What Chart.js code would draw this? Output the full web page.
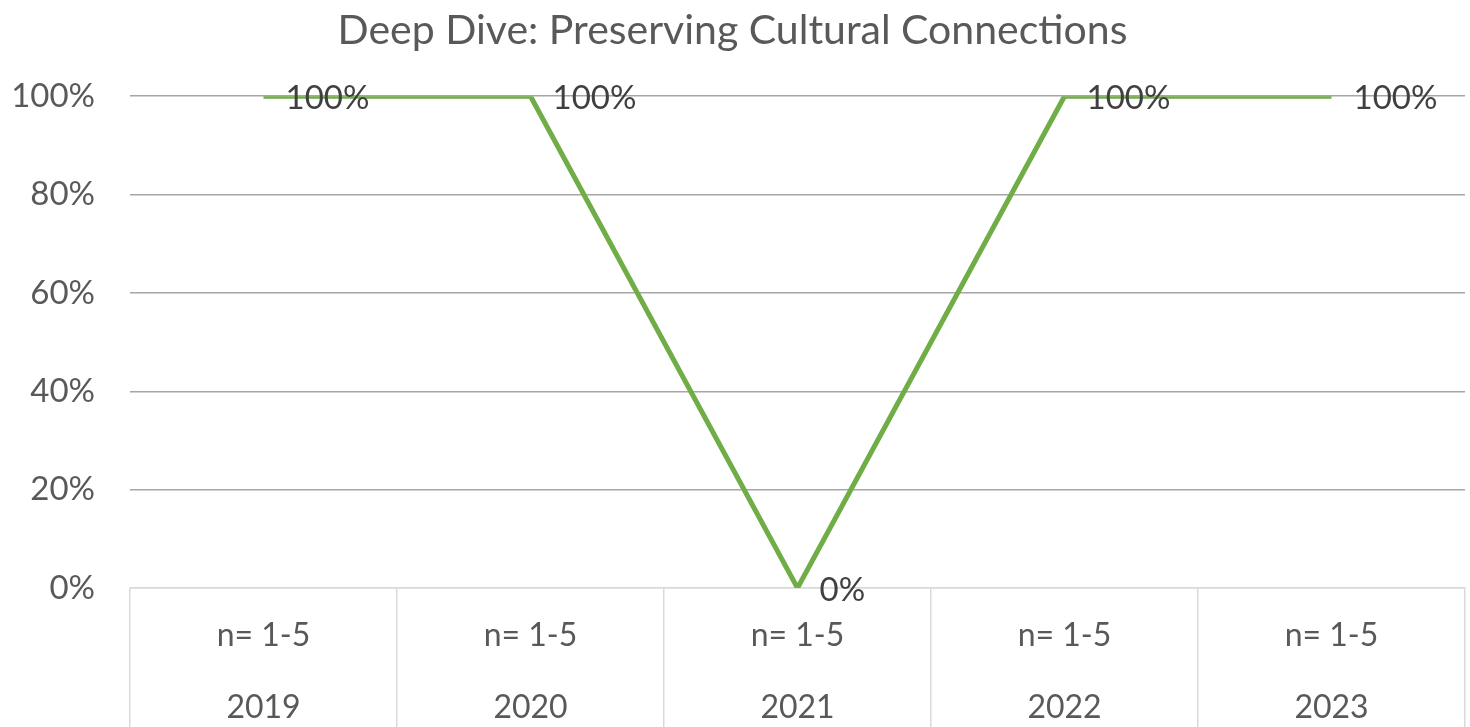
<!DOCTYPE html>
<html>
<head>
<meta charset="utf-8">
<title>Deep Dive: Preserving Cultural Connections</title>
<script src="https://cdn.jsdelivr.net/npm/chart.js@4/dist/chart.umd.min.js"></script>
<style>
    html, body { margin: 0; padding: 0; background: #ffffff; }
    #mon-canvas { width: 1470px; height: 727px; position: relative; }
</style>
</head>
<body>
<div id="mon-canvas"><canvas id="myChart"></canvas></div>
<script>
//les données
var titre = "Deep Dive: Preserving Cultural Connections";
var annees = ['2019', '2020', '2021', '2022', '2023'];
var effectifs = ['n= 1-5', 'n= 1-5', 'n= 1-5', 'n= 1-5', 'n= 1-5'];
var valeurs = [1, 1, 0, 1, 1];
var graduations = [0, 0.2, 0.4, 0.6, 0.8, 1];

var police = "Lato, 'Noto Sans', sans-serif";

//étiquettes sur deux lignes
var etiquettes = [];
for (var i = 0; i < annees.length; i++) {
    etiquettes.push([effectifs[i], annees[i]]);
}

function pourcent (v) {
    return Math.round(v * 100) + '%';
}

//affichage des valeurs à droite des points
var valeursPlugin = {
    id: 'valeurs',
    afterDatasetsDraw: function (chart) {
        var ctx = chart.ctx;
        var meta = chart.getDatasetMeta(0);
        ctx.save();
        ctx.font = '33px ' + police;
        ctx.fillStyle = '#404040';
        ctx.textAlign = 'left';
        ctx.textBaseline = 'middle';
        meta.data.forEach(function (pt, idx) {
            ctx.fillText(pourcent(valeurs[idx]), pt.x + 22, pt.y + 2);
        });
        ctx.restore();
    }
};

var ctx = document.getElementById('myChart').getContext('2d');
var chart = new Chart(ctx, {
    type: 'line',
    data: {
        labels: etiquettes,
        datasets: [{
            label: titre,
            data: valeurs,
            borderColor: '#70AD47',
            borderWidth: 5,
            pointRadius: 0,
            tension: 0,
            fill: false
        }]
    },
    options: {
        responsive: true,
        maintainAspectRatio: false,
        animation: false,
        layout: { padding: { left: 0, right: 5, top: 0, bottom: 0 } },
        plugins: {
            legend: { display: false },
            tooltip: { enabled: false },
            title: {
                display: true,
                text: titre,
                color: '#595959',
                font: { family: police, size: 41, weight: 'normal' },
                padding: { top: 6, bottom: 41 }
            }
        },
        scales: {
            x: {
                offset: true,
                grid: {
                    offset: true,
                    drawOnChartArea: false,
                    drawTicks: true,
                    tickLength: 140,
                    color: '#d9d9d9',
                    lineWidth: 1.5
                },
                border: { display: true, color: '#d9d9d9', width: 1.5 },
                ticks: {
                    color: '#595959',
                    font: { family: police, size: 32, lineHeight: 72 / 32 },
                    padding: -128,
                    maxRotation: 0,
                    autoSkip: false
                },
                afterFit: function (scale) { scale.height = 139; }
            },
            y: {
                min: 0,
                max: 1,
                afterBuildTicks: function (scale) {
                    scale.ticks = graduations.map(function (v) { return { value: v }; });
                },
                grid: {
                    drawTicks: false,
                    color: function (c) { return c.tick.value === 0 ? '#d9d9d9' : '#a6a6a6'; },
                    lineWidth: 1.5
                },
                border: { display: false },
                ticks: {
                    color: '#595959',
                    font: { family: police, size: 33 },
                    padding: 35,
                    callback: function (v) { return pourcent(v); }
                },
                afterFit: function (scale) { scale.width = 130; }
            }
        }
    },
    plugins: [valeursPlugin]
});
</script>
</body>
</html>
